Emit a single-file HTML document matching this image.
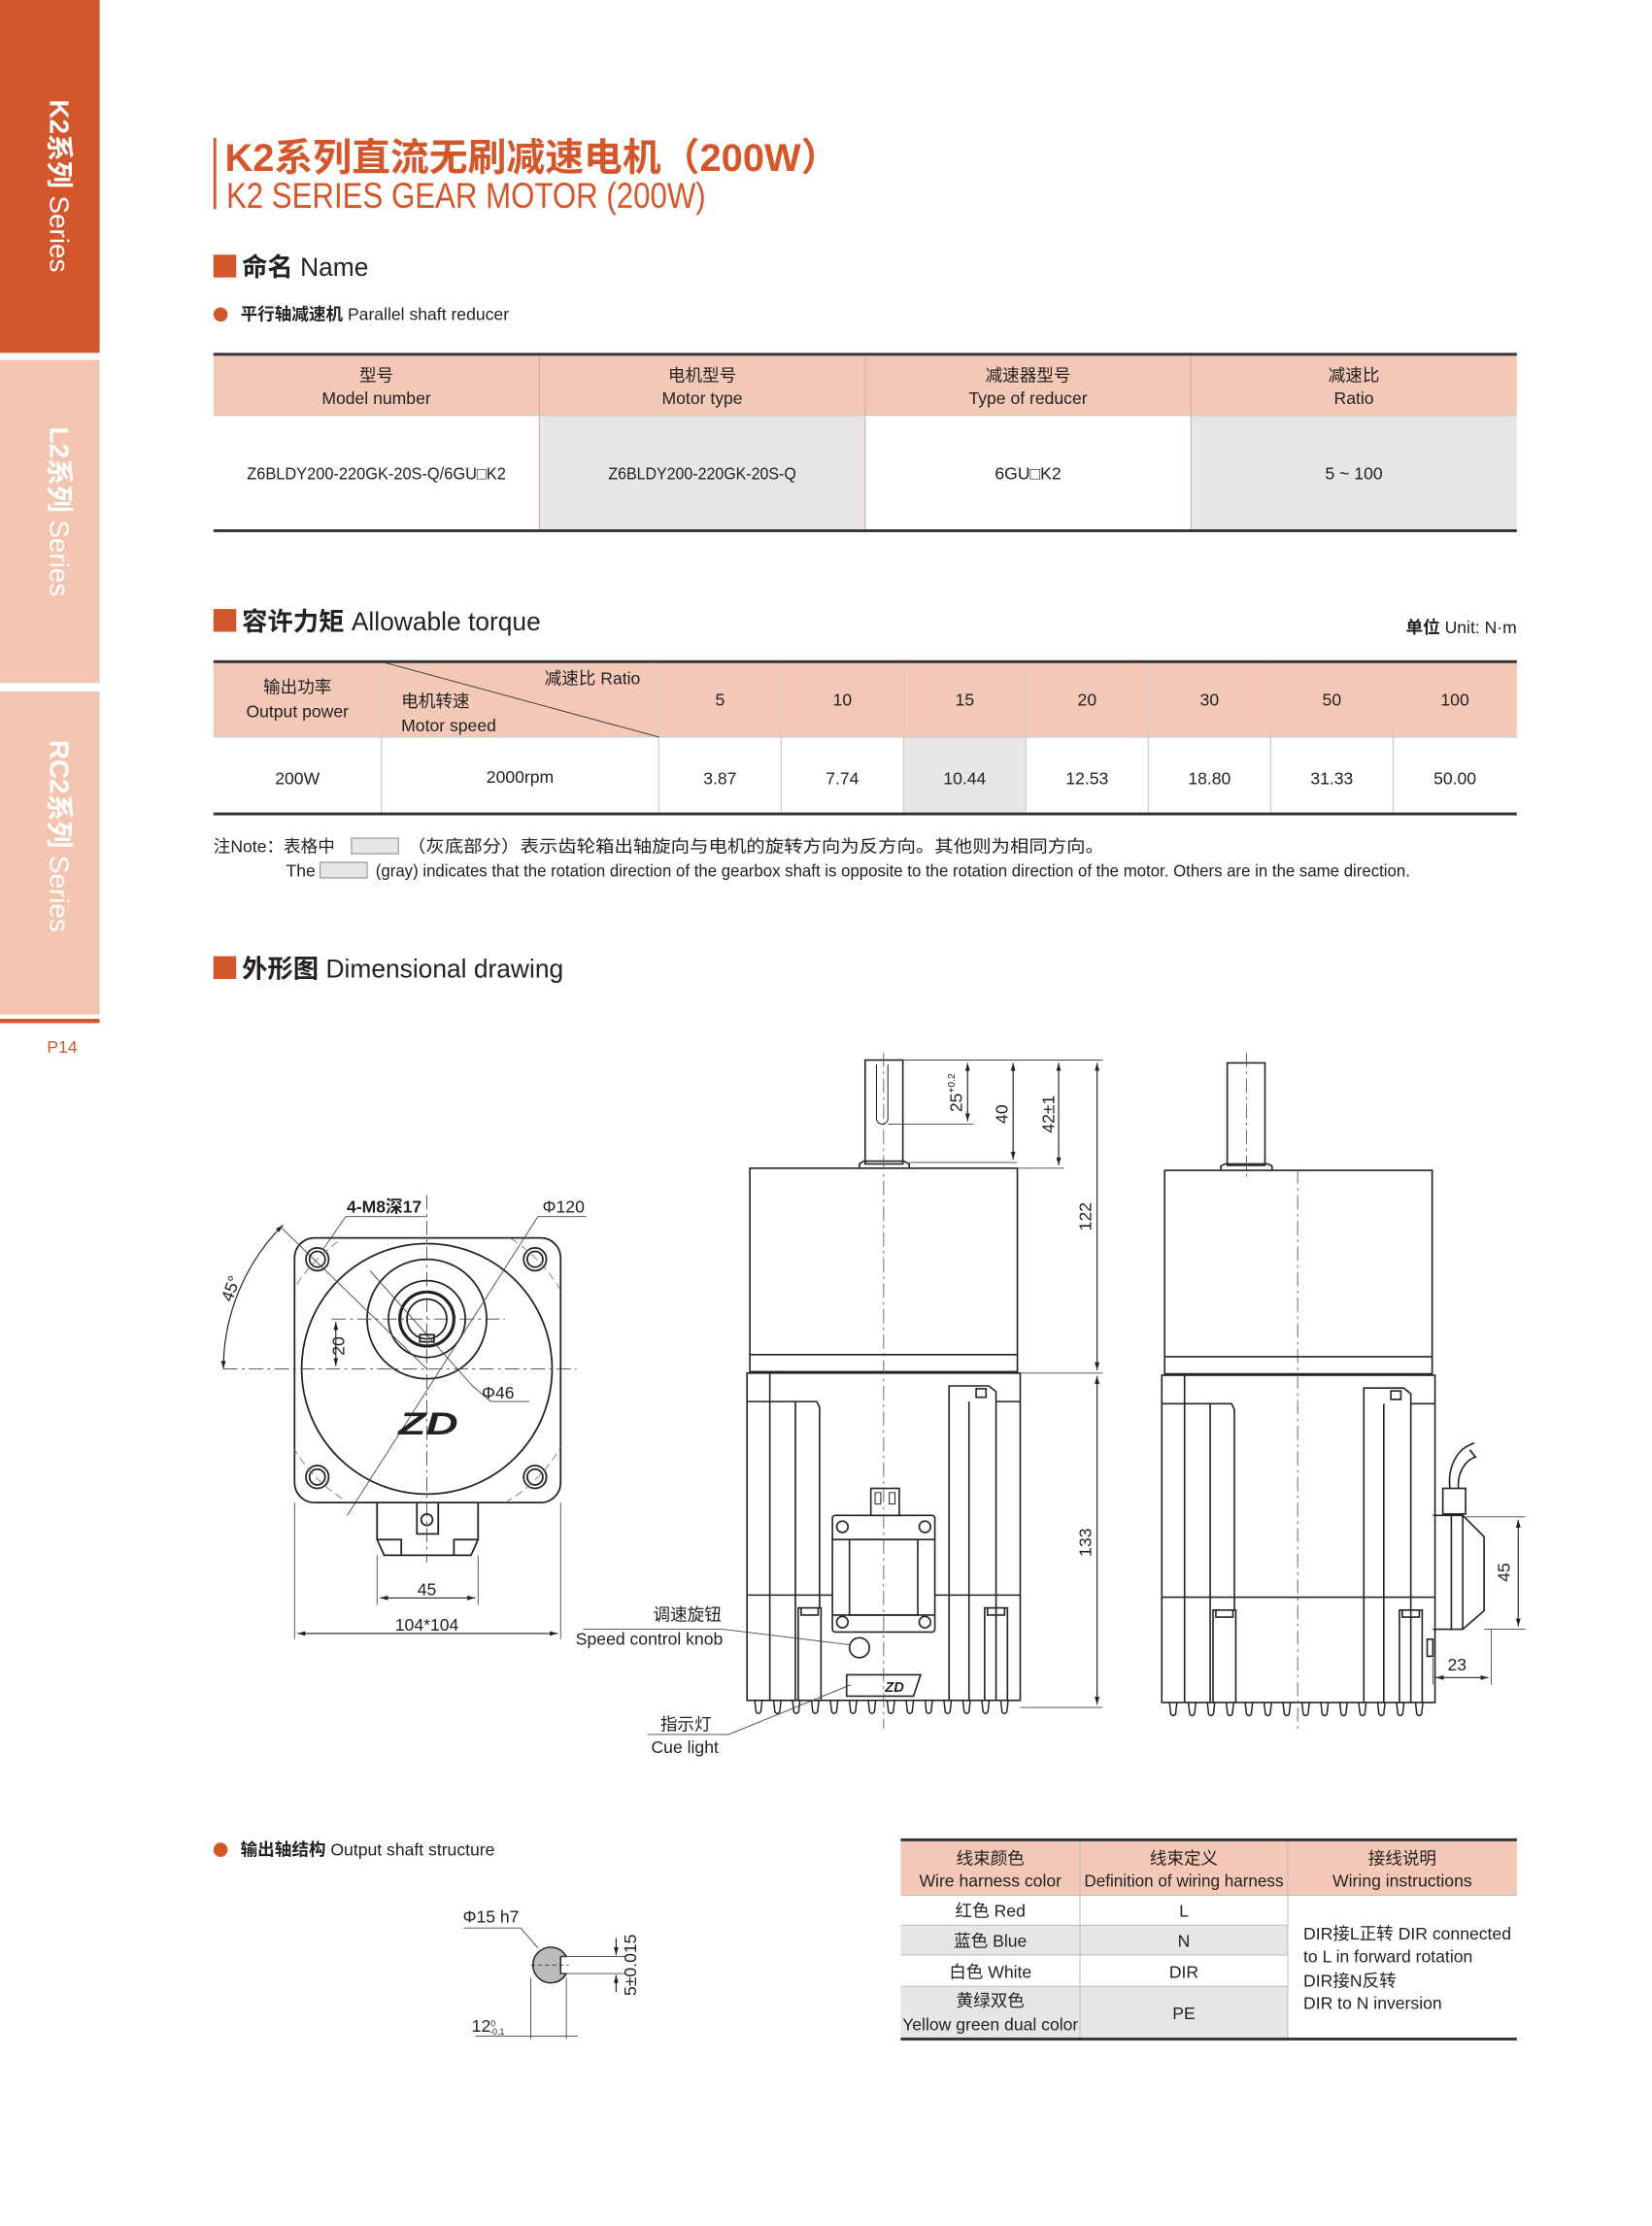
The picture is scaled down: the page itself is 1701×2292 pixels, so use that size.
<!DOCTYPE html>
<html><head><meta charset="utf-8">
<style>
html,body{margin:0;padding:0;background:#fff;width:1701px;height:2292px;overflow:hidden}
svg{display:block}
text{font-family:"Liberation Sans Narrow","Liberation Sans","Noto Sans CJK SC",sans-serif;fill:#222}
.c{text-anchor:middle}
.t12{font-size:12px}
</style></head><body>
<svg width="1701" height="2292" viewBox="0 0 1161 1564.4" xmlns="http://www.w3.org/2000/svg">
<defs>
<marker id="ar" viewBox="0 0 10 10" refX="10" refY="5" markerWidth="7" markerHeight="7" orient="auto-start-reverse"><path d="M0,2 L10,5 L0,8 z" fill="#222"/></marker>
<path id="fin" d="M-2.6,0 L-1.7,8 Q0,10.5 1.7,8 L2.6,0" fill="none" stroke="#222" stroke-width="1"/>
<clipPath id="sq"><rect x="207" y="870" width="187" height="186" rx="14"/></clipPath>
</defs>

<!-- sidebar -->
<rect x="0" y="0" width="70" height="248" fill="#d4562b"/>
<rect x="0" y="253" width="70" height="227" fill="#f3c4b0"/>
<rect x="0" y="486" width="70" height="227" fill="#f3c4b0"/>
<rect x="0" y="716" width="70" height="3" fill="#d4562b"/>
<text x="33" y="740" style="font-size:12px;fill:#d4562b">P14</text>
<g style="font-size:19px">
<text transform="translate(35,70) rotate(90)" style="fill:#fff"><tspan font-weight="bold">K2系列</tspan> Series</text>
<text transform="translate(35,300) rotate(90)" style="fill:#fff"><tspan font-weight="bold">L2系列</tspan> Series</text>
<text transform="translate(35,520) rotate(90)" style="fill:#fff"><tspan font-weight="bold">RC2系列</tspan> Series</text>
</g>

<!-- title -->
<rect x="150" y="97" width="2" height="50" fill="#d4562b"/>
<text x="158" y="120" style="font-size:27px;font-weight:bold;fill:#d4562b" textLength="432" lengthAdjust="spacingAndGlyphs">K2系列直流无刷减速电机（200W）</text>
<text x="159" y="146" style="font-size:25px;fill:#d4562b" textLength="337" lengthAdjust="spacingAndGlyphs">K2 SERIES GEAR MOTOR (200W)</text>

<!-- Name -->
<rect x="150" y="179" width="16" height="16" fill="#d4562b"/>
<text x="170" y="194" style="font-size:18px"><tspan font-weight="bold">命名</tspan> Name</text>
<circle cx="155" cy="221" r="5" fill="#d4562b"/>
<text x="169" y="225" style="font-size:12px"><tspan font-weight="bold">平行轴减速机</tspan> Parallel shaft reducer</text>

<!-- table1 -->
<rect x="150" y="249" width="916" height="43" fill="#f4c8b7"/>
<rect x="379" y="292" width="229" height="81" fill="#e6e6e6"/>
<rect x="837" y="292" width="229" height="81" fill="#e6e6e6"/>
<g stroke="#d8b0a0" stroke-width="0.8"><line x1="379" y1="249" x2="379" y2="373"/><line x1="608" y1="249" x2="608" y2="373"/><line x1="837" y1="249" x2="837" y2="373"/></g>
<line x1="150" y1="292" x2="1066" y2="292" stroke="#ccc" stroke-width="0.8"/>
<rect x="150" y="248" width="916" height="2" fill="#333"/>
<rect x="150" y="372" width="916" height="2" fill="#333"/>
<g class="t12">
<text class="c" x="264.5" y="268">型号</text><text class="c" x="264.5" y="284">Model number</text>
<text class="c" x="493.5" y="268">电机型号</text><text class="c" x="493.5" y="284">Motor type</text>
<text class="c" x="722.5" y="268">减速器型号</text><text class="c" x="722.5" y="284">Type of reducer</text>
<text class="c" x="951.5" y="268">减速比</text><text class="c" x="951.5" y="284">Ratio</text>
<text class="c" x="264.5" y="337" textLength="182" lengthAdjust="spacingAndGlyphs">Z6BLDY200-220GK-20S-Q/6GU□K2</text>
<text class="c" x="493.5" y="337" textLength="132" lengthAdjust="spacingAndGlyphs">Z6BLDY200-220GK-20S-Q</text>
<text class="c" x="722.5" y="337">6GU□K2</text>
<text class="c" x="951.5" y="337">5 ~ 100</text>
</g>

<!-- torque -->
<rect x="150" y="428" width="16" height="16" fill="#d4562b"/>
<text x="170" y="443" style="font-size:18px"><tspan font-weight="bold">容许力矩</tspan> Allowable torque</text>
<text x="1066" y="445" style="font-size:12px;text-anchor:end"><tspan font-weight="bold">单位</tspan> Unit: N·m</text>

<rect x="150" y="465" width="916" height="53" fill="#f4c8b7"/>
<rect x="635" y="518" width="86" height="54" fill="#e6e6e6"/>
<g stroke="#ccc" stroke-width="0.8">
<line x1="268" y1="465" x2="268" y2="572"/><line x1="463" y1="465" x2="463" y2="572"/><line x1="549" y1="465" x2="549" y2="572"/><line x1="635" y1="465" x2="635" y2="572"/><line x1="721" y1="465" x2="721" y2="572"/><line x1="807" y1="465" x2="807" y2="572"/><line x1="893" y1="465" x2="893" y2="572"/><line x1="979" y1="465" x2="979" y2="572"/>
<line x1="150" y1="518" x2="1066" y2="518"/>
</g>
<line x1="268" y1="465" x2="463" y2="518" stroke="#444" stroke-width="0.7"/>
<rect x="150" y="464" width="916" height="2" fill="#333"/>
<rect x="150" y="571" width="916" height="2" fill="#333"/>
<g class="t12">
<text class="c" x="209" y="487">输出功率</text><text class="c" x="209" y="504">Output power</text>
<text x="450" y="481" style="text-anchor:end">减速比 Ratio</text>
<text x="282" y="497">电机转速</text><text x="282" y="514">Motor speed</text>
<text class="c" x="506" y="496">5</text><text class="c" x="592" y="496">10</text><text class="c" x="678" y="496">15</text><text class="c" x="764" y="496">20</text><text class="c" x="850" y="496">30</text><text class="c" x="936" y="496">50</text><text class="c" x="1022.5" y="496">100</text>
<text class="c" x="209" y="551">200W</text><text class="c" x="365.5" y="550">2000rpm</text>
<text class="c" x="506" y="551">3.87</text><text class="c" x="592" y="551">7.74</text><text class="c" x="678" y="551">10.44</text><text class="c" x="764" y="551">12.53</text><text class="c" x="850" y="551">18.80</text><text class="c" x="936" y="551">31.33</text><text class="c" x="1022.5" y="551">50.00</text>
</g>
<text x="150" y="599" style="font-size:12px">注Note：表格中</text>
<rect x="247" y="589" width="33" height="11" fill="#e6e6e6" stroke="#888" stroke-width="0.7"/>
<text x="286" y="599" style="font-size:12px" textLength="490" lengthAdjust="spacingAndGlyphs">（灰底部分）表示齿轮箱出轴旋向与电机的旋转方向为反方向。其他则为相同方向。</text>
<text x="201" y="616" style="font-size:12px">The</text>
<rect x="225" y="606" width="33" height="11" fill="#e6e6e6" stroke="#888" stroke-width="0.7"/>
<text x="264" y="616" style="font-size:12px" textLength="727" lengthAdjust="spacingAndGlyphs">(gray) indicates that the rotation direction of the gearbox shaft is opposite to the rotation direction of the motor. Others are in the same direction.</text>

<!-- dimensional -->
<rect x="150" y="672" width="16" height="16" fill="#d4562b"/>
<text x="170" y="687" style="font-size:18px"><tspan font-weight="bold">外形图</tspan> Dimensional drawing</text>

<!-- FRONT VIEW -->
<g fill="none" stroke="#222" stroke-width="1.2">
<rect x="207" y="870" width="187" height="186" rx="14"/>
<circle cx="300" cy="962" r="88"/>
<circle cx="300" cy="927" r="42"/>
<circle cx="300" cy="927" r="27"/>
<circle cx="300" cy="927" r="19" stroke-width="2.2"/>
<circle cx="300" cy="927" r="14"/>
<rect x="295" y="938" width="10" height="5"/>
<circle cx="223" cy="885" r="8"/><circle cx="223" cy="885" r="5.5"/>
<circle cx="376" cy="885" r="8"/><circle cx="376" cy="885" r="5.5"/>
<circle cx="223" cy="1038" r="8"/><circle cx="223" cy="1038" r="5.5"/>
<circle cx="376" cy="1038" r="8"/><circle cx="376" cy="1038" r="5.5"/>
<path d="M265,1056 V1082 L270,1093 H331 L336,1082 V1056"/>
<path d="M265,1082 H282 V1093 M336,1082 H319 V1093"/>
<path d="M293,1056 V1078 H308 V1056"/><circle cx="300" cy="1068" r="4"/>
</g>
<circle cx="300" cy="962" r="109" fill="none" stroke="#777" stroke-width="0.6" stroke-dasharray="6 3" clip-path="url(#sq)"/>
<g stroke="#444" stroke-width="0.6" fill="none">
<line x1="157" y1="962" x2="405" y2="962" stroke-dasharray="10 3 2 3"/>
<line x1="300" y1="840" x2="300" y2="1098" stroke-dasharray="10 3 2 3"/>
<line x1="233" y1="927" x2="355" y2="927" stroke-dasharray="10 3 2 3"/>
<line x1="198" y1="863" x2="300" y2="962"/>
<line x1="260" y1="893" x2="332" y2="974"/>
<line x1="332" y1="974" x2="345" y2="985"/>
<line x1="345" y1="985" x2="372" y2="985"/>
<line x1="244" y1="1065" x2="378" y2="855"/>
<line x1="378" y1="855" x2="412" y2="855"/>
<line x1="243" y1="855" x2="300" y2="855"/>
<line x1="243" y1="855" x2="227" y2="878"/>
<line x1="207" y1="1056" x2="207" y2="1152"/><line x1="394" y1="1056" x2="394" y2="1152"/>
<line x1="265" y1="1093" x2="265" y2="1128"/><line x1="336" y1="1093" x2="336" y2="1128"/>
</g>
<g stroke="#222" stroke-width="0.8" fill="none">
<path d="M157,962 A143,143 0 0 1 198.9,860.9" marker-start="url(#ar)" marker-end="url(#ar)"/>
<line x1="236" y1="929" x2="236" y2="960" marker-start="url(#ar)" marker-end="url(#ar)"/>
<line x1="267" y1="1123" x2="334" y2="1123" marker-start="url(#ar)" marker-end="url(#ar)"/>
<line x1="209" y1="1148" x2="392" y2="1148" marker-start="url(#ar)" marker-end="url(#ar)"/>
</g>
<!-- ZD logo -->
<text x="301" y="1008" class="c" style="font-size:22px;font-weight:bold;font-style:italic;fill:#222" textLength="42" lengthAdjust="spacingAndGlyphs">ZD</text>
<g class="t12">
<text x="270" y="852" class="c" style="font-weight:bold">4-M8深17</text>
<text x="396" y="852" class="c">Φ120</text>
<text x="350" y="983" class="c">Φ46</text>
<text transform="translate(242,946) rotate(-90)" class="c">20</text>
<text transform="translate(166,907) rotate(-70)" class="c">45°</text>
<text x="300" y="1121" class="c">45</text>
<text x="300" y="1146" class="c">104*104</text>
</g>

<!-- SIDE VIEW (middle) -->
<g id="housing" fill="none" stroke="#222" stroke-width="1.1">
<rect x="527" y="821" width="188" height="143"/>
<line x1="527" y1="952" x2="715" y2="952"/>
<rect x="525" y="965" width="192" height="230"/>
<path d="M541,965 V1195 M559,985 V1195 M541,985 H574 L576,989 V1130"/>
<path d="M525,985 H541 M700,985 H717"/>
<path d="M667,1195 V974 H695 L700,978 V1195 M681,985 V1195"/>
<path d="M686,976 H693 V982 H686z"/>
<line x1="525" y1="1121" x2="717" y2="1121"/>
<path d="M561,1195 V1130 H577 V1195 M563,1130 V1135 H575 V1130"/>
<path d="M692,1195 V1130 H708 V1195 M694,1130 V1135 H706 V1130"/>
</g>
<g>
<use href="#fin" x="533" y="1195"/><use href="#fin" x="546.3" y="1195"/><use href="#fin" x="559.6" y="1195"/><use href="#fin" x="572.9" y="1195"/><use href="#fin" x="586.2" y="1195"/><use href="#fin" x="599.5" y="1195"/><use href="#fin" x="612.8" y="1195"/><use href="#fin" x="626.1" y="1195"/><use href="#fin" x="639.4" y="1195"/><use href="#fin" x="652.7" y="1195"/><use href="#fin" x="666" y="1195"/><use href="#fin" x="679.3" y="1195"/><use href="#fin" x="692.6" y="1195"/><use href="#fin" x="705.9" y="1195"/>
</g>
<g fill="none" stroke="#222" stroke-width="1.1">
<rect x="608" y="745" width="26.5" height="73"/>
<path d="M604,821 V818 L607,816 H635 L639,818 V821"/>
<path d="M616,748 V786 A4,4 0 0 0 624,786 V748" stroke-width="0.7"/>
<rect x="585" y="1065" width="72" height="82" rx="2" fill="#fff"/>
<rect x="597" y="1082" width="48" height="53"/>
<line x1="585" y1="1082" x2="657" y2="1082"/><line x1="585" y1="1135" x2="657" y2="1135"/>
<circle cx="592" cy="1073" r="4"/><circle cx="650" cy="1073" r="4"/><circle cx="592" cy="1140" r="4"/><circle cx="650" cy="1140" r="4"/>
<rect x="612" y="1046" width="20" height="19"/>
<path d="M615,1049 h4 v8 h-4z M625,1049 h4 v8 h-4z" stroke-width="0.7"/>
<circle cx="604" cy="1158" r="7"/>
<path d="M595,1177 H647 L642,1192 H595z"/>
</g>
<text x="622" y="1189" style="font-size:10px;font-weight:bold;font-style:italic">ZD</text>
<line x1="621" y1="740" x2="621" y2="1215" stroke="#555" stroke-width="0.6" stroke-dasharray="10 3 2 3"/>
<!-- dims middle -->
<g stroke="#444" stroke-width="0.6">
<line x1="634" y1="745" x2="775" y2="745"/>
<line x1="624" y1="790" x2="684" y2="790"/>
<line x1="639" y1="817" x2="715" y2="817"/>
<line x1="715" y1="821" x2="748" y2="821"/>
<line x1="717" y1="965" x2="775" y2="965"/>
<line x1="717" y1="1200" x2="775" y2="1200"/>
</g>
<g stroke="#222" stroke-width="0.8">
<line x1="680" y1="747" x2="680" y2="788" marker-start="url(#ar)" marker-end="url(#ar)"/>
<line x1="712" y1="747" x2="712" y2="815" marker-start="url(#ar)" marker-end="url(#ar)"/>
<line x1="744" y1="747" x2="744" y2="819" marker-start="url(#ar)" marker-end="url(#ar)"/>
<line x1="771" y1="747" x2="771" y2="963" marker-start="url(#ar)" marker-end="url(#ar)"/>
<line x1="771" y1="967" x2="771" y2="1198" marker-start="url(#ar)" marker-end="url(#ar)"/>
</g>
<g class="t12">
<text transform="translate(676,768) rotate(-90)" class="c">25<tspan dy="-5" style="font-size:7px">+0.2</tspan></text>
<text transform="translate(708,783) rotate(-90)" class="c">40</text>
<text transform="translate(741,783) rotate(-90)" class="c">42±1</text>
<text transform="translate(767,855) rotate(-90)" class="c">122</text>
<text transform="translate(767,1084) rotate(-90)" class="c">133</text>
</g>
<!-- leaders -->
<g stroke="#444" stroke-width="0.6" fill="none">
<path d="M410,1145 H508 L598,1156"/>
<path d="M455,1219 H512 L598,1184"/>
</g>
<g class="t12">
<text x="507" y="1139" style="text-anchor:end">调速旋钮</text>
<text x="508" y="1156" style="text-anchor:end">Speed control knob</text>
<text x="500" y="1216" style="text-anchor:end">指示灯</text>
<text x="505" y="1232" style="text-anchor:end">Cue light</text>
</g>

<!-- THIRD VIEW -->
<use href="#housing" x="291.5" y="1.5"/>
<g>
<use href="#fin" x="824.5" y="1196.5"/><use href="#fin" x="837.8" y="1196.5"/><use href="#fin" x="851.1" y="1196.5"/><use href="#fin" x="864.4" y="1196.5"/><use href="#fin" x="877.7" y="1196.5"/><use href="#fin" x="891" y="1196.5"/><use href="#fin" x="904.3" y="1196.5"/><use href="#fin" x="917.6" y="1196.5"/><use href="#fin" x="930.9" y="1196.5"/><use href="#fin" x="944.2" y="1196.5"/><use href="#fin" x="957.5" y="1196.5"/><use href="#fin" x="970.8" y="1196.5"/><use href="#fin" x="984.1" y="1196.5"/><use href="#fin" x="997.4" y="1196.5"/>
</g>
<g fill="none" stroke="#222" stroke-width="1.1">
<rect x="862.5" y="747" width="26.5" height="72"/>
<path d="M858,822.5 V819.5 L861,818 H891 L894,819.5 V822.5"/>
<path d="M1007,1065 H1028 L1043,1080 V1132 L1028,1145 H1007"/>
<path d="M1020,1065 V1145 M1028,1065 V1145"/>
<rect x="1014" y="1046" width="16" height="18"/>
<path d="M1019,1046 C1017,1030 1025,1020 1030,1017 L1036,1014 M1025,1046 C1024,1035 1030,1026 1037,1024 L1033,1019"/>
<rect x="1003" y="1152" width="4" height="12"/>
</g>
<line x1="876" y1="740" x2="876" y2="830" stroke="#555" stroke-width="0.6" stroke-dasharray="10 3 2 3"/>
<line x1="912" y1="822" x2="912" y2="1215" stroke="#555" stroke-width="0.6" stroke-dasharray="10 3 2 3"/>
<g stroke="#444" stroke-width="0.6">
<line x1="1030" y1="1066" x2="1072" y2="1066"/><line x1="1043" y1="1145" x2="1072" y2="1145"/>
<line x1="1007" y1="1165" x2="1007" y2="1184"/><line x1="1048" y1="1145" x2="1048" y2="1184"/>
</g>
<g stroke="#222" stroke-width="0.8">
<line x1="1067" y1="1068" x2="1067" y2="1143" marker-start="url(#ar)" marker-end="url(#ar)"/>
<line x1="1009" y1="1179" x2="1046" y2="1179" marker-start="url(#ar)" marker-end="url(#ar)"/>
</g>
<g class="t12">
<text transform="translate(1061,1105) rotate(-90)" class="c">45</text>
<text x="1024" y="1174" class="c">23</text>
</g>

<!-- output shaft -->
<circle cx="155" cy="1300" r="5" fill="#d4562b"/>
<text x="169" y="1304" style="font-size:12px"><tspan font-weight="bold">输出轴结构</tspan> Output shaft structure</text>
<g fill="none" stroke="#222" stroke-width="1">
<path d="M398,1375 A12.5,12.5 0 1 0 398,1387 H394 V1375 z" fill="#bbb"/>
<line x1="373" y1="1381" x2="400" y2="1381" stroke-width="0.5" stroke-dasharray="3 2"/>
</g>
<g stroke="#444" stroke-width="0.6" fill="none">
<path d="M326,1355 H366 L378,1369"/>
<line x1="394" y1="1375" x2="440" y2="1375"/><line x1="394" y1="1387" x2="440" y2="1387"/>
<line x1="373" y1="1390" x2="373" y2="1433"/><line x1="398" y1="1390" x2="398" y2="1433"/>
<line x1="334" y1="1431" x2="406" y2="1431"/>
</g>
<g stroke="#222" stroke-width="0.8">
<line x1="433" y1="1362" x2="433" y2="1374" marker-end="url(#ar)"/>
<line x1="433" y1="1400" x2="433" y2="1388" marker-end="url(#ar)"/>
</g>
<g class="t12">
<text x="345" y="1351" class="c">Φ15 h7</text>
<text transform="translate(447,1381) rotate(-90)" class="c">5±0.015</text>
<text x="343" y="1428" class="c">12<tspan style="font-size:6px" dy="-4">0</tspan><tspan style="font-size:6px" dx="-4" dy="6">-0.1</tspan></text>
</g>

<!-- wiring table -->
<rect x="633" y="1293" width="433" height="39" fill="#f4c8b7"/>
<rect x="633" y="1353" width="272" height="21" fill="#e6e6e6"/>
<rect x="633" y="1396" width="272" height="37" fill="#e6e6e6"/>
<g stroke="#bbb" stroke-width="0.7">
<line x1="759" y1="1293" x2="759" y2="1433"/><line x1="905" y1="1293" x2="905" y2="1433"/>
<line x1="633" y1="1332" x2="1066" y2="1332"/>
<line x1="633" y1="1353" x2="905" y2="1353"/><line x1="633" y1="1374" x2="905" y2="1374"/><line x1="633" y1="1396" x2="905" y2="1396"/>
</g>
<rect x="633" y="1292" width="433" height="2" fill="#333"/>
<rect x="633" y="1432" width="433" height="2" fill="#333"/>
<g class="t12">
<text class="c" x="696" y="1310">线束颜色</text><text class="c" x="696" y="1326">Wire harness color</text>
<text class="c" x="832" y="1310">线束定义</text><text class="c" x="832" y="1326" textLength="140" lengthAdjust="spacingAndGlyphs">Definition of wiring harness</text>
<text class="c" x="985.5" y="1310">接线说明</text><text class="c" x="985.5" y="1326">Wiring instructions</text>
<text class="c" x="696" y="1347">红色 Red</text><text class="c" x="832" y="1347">L</text>
<text class="c" x="696" y="1368">蓝色 Blue</text><text class="c" x="832" y="1368">N</text>
<text class="c" x="696" y="1390">白色 White</text><text class="c" x="832" y="1390">DIR</text>
<text class="c" x="696" y="1410">黄绿双色</text><text class="c" x="696" y="1427">Yellow green dual color</text><text class="c" x="832" y="1419">PE</text>
<text x="916" y="1363">DIR接L正转 DIR connected</text>
<text x="916" y="1379">to L in forward rotation</text>
<text x="916" y="1396">DIR接N反转</text>
<text x="916" y="1412">DIR to N inversion</text>
</g>
</svg>
</body></html>
